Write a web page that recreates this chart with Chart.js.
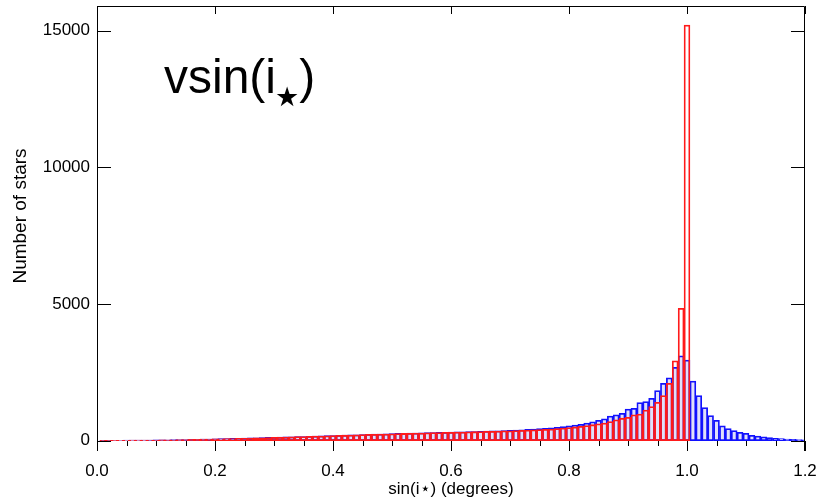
<!DOCTYPE html>
<html>
<head>
<meta charset="utf-8">
<script src="https://cdn.jsdelivr.net/npm/chart.js@4/dist/chart.umd.min.js"></script>
<style>
html,body{margin:0;padding:0;background:#fff;}
#wrap{width:839px;height:503px;position:relative;}
</style>
</head>
<body>
<div id="wrap"><canvas id="c" width="839" height="503"></canvas></div>
<script>
// ---- data ----
const binCenters = [
 0.01,0.02,0.03,0.04,0.05,0.06,0.07,0.08,0.09,0.10,
 0.11,0.12,0.13,0.14,0.15,0.16,0.17,0.18,0.19,0.20,
 0.21,0.22,0.23,0.24,0.25,0.26,0.27,0.28,0.29,0.30,
 0.31,0.32,0.33,0.34,0.35,0.36,0.37,0.38,0.39,0.40,
 0.41,0.42,0.43,0.44,0.45,0.46,0.47,0.48,0.49,0.50,
 0.51,0.52,0.53,0.54,0.55,0.56,0.57,0.58,0.59,0.60,
 0.61,0.62,0.63,0.64,0.65,0.66,0.67,0.68,0.69,0.70,
 0.71,0.72,0.73,0.74,0.75,0.76,0.77,0.78,0.79,0.80,
 0.81,0.82,0.83,0.84,0.85,0.86,0.87,0.88,0.89,0.90,
 0.91,0.92,0.93,0.94,0.95,0.96,0.97,0.98,0.99,1.00,
 1.01,1.02,1.03,1.04,1.05,1.06,1.07,1.08,1.09,1.10,
 1.11,1.12,1.13,1.14,1.15,1.16,1.17,1.18,1.19,1.20
];
const vsiniCounts = [
 8,10,12,14,15,17,20,22,24,27,
 29,32,35,37,42,46,50,56,60,66,
 70,75,82,86,92,98,104,110,116,122,
 128,134,142,148,152,160,168,172,180,188,
 195,202,210,216,224,230,236,240,248,256,
 262,270,272,280,286,290,296,300,306,312,
 318,322,330,334,340,348,356,362,370,378,
 388,398,410,420,436,450,468,490,512,540,
 570,600,640,690,740,795,900,940,1000,1150,
 1185,1390,1430,1550,1830,2100,2300,2680,3100,2950,
 2180,1650,1210,915,745,540,440,365,305,270,
 195,170,135,110,85,70,55,45,40,30
];
const sinCounts = [
 6,8,10,12,13,15,18,20,22,24,
 27,30,32,35,38,44,48,52,58,62,
 68,72,78,84,88,95,100,106,112,118,
 124,130,138,144,150,156,164,170,176,184,
 190,198,204,212,218,226,230,236,242,250,
 256,262,268,272,278,284,290,294,300,305,
 310,316,320,326,332,338,344,350,356,362,
 368,376,384,392,402,412,425,440,458,478,
 500,525,552,582,612,640,700,760,820,855,
 940,975,1120,1245,1400,1650,2100,2915,4840,15200
];
const xMajorTicks = [0.0,0.2,0.4,0.6,0.8,1.0,1.2];
const xMinorTicks = [0.05,0.1,0.15,0.25,0.3,0.35,0.45,0.5,0.55,0.65,0.7,0.75,0.85,0.9,0.95,1.05,1.1,1.15];
const yTicks = [0,5000,10000,15000];
const xRange = [0, 1.2];
const yRange = [-380, 15900];

const FONT = "'Liberation Sans', Arial, Helvetica, sans-serif";

const framePlugin = {
  id: 'frame',
  afterDatasetsDraw(chart) {
    const ctx = chart.ctx, a = chart.chartArea;
    const xs = chart.scales.x, ys = chart.scales.y;
    ctx.save();
    ctx.strokeStyle = '#000';
    ctx.lineWidth = 1;
    ctx.beginPath();
    ctx.moveTo(Math.round(a.left)+0.5, a.bottom);
    ctx.lineTo(Math.round(a.left)+0.5, a.top+0.5);
    ctx.lineTo(Math.round(a.right)-0.5, a.top+0.5);
    ctx.lineTo(Math.round(a.right)-0.5, a.bottom);
    ctx.stroke();
    const y0 = Math.round(ys.getPixelForValue(0));
    ctx.beginPath();
    xMajorTicks.forEach(v => {
      const px = Math.round(xs.getPixelForValue(v)) + 0.5;
      ctx.moveTo(px, y0); ctx.lineTo(px, y0 + 10);
      ctx.moveTo(px, a.top); ctx.lineTo(px, a.top + 8);
    });
    xMinorTicks.forEach(v => {
      const px = Math.round(xs.getPixelForValue(v)) + 0.5;
      ctx.moveTo(px, y0); ctx.lineTo(px, y0 + 5);
    });
    yTicks.forEach(v => {
      const py = Math.round(ys.getPixelForValue(v)) + 0.5;
      ctx.moveTo(a.left, py); ctx.lineTo(a.left + 14, py);
      ctx.moveTo(a.right, py); ctx.lineTo(a.right - 14, py);
    });
    ctx.stroke();
    // panel label
    ctx.fillStyle = '#000';
    ctx.textBaseline = 'alphabetic';
    ctx.textAlign = 'left';
    ctx.font = '48px ' + FONT;
    const base = 93;
    let x = 164;
    ctx.fillText('vsin(i', x, base);
    x += ctx.measureText('vsin(i').width;
    ctx.font = '27px DejaVu Sans';
    ctx.fillText('★', x - 1, base + 13);
    x += ctx.measureText('★').width - 1;
    ctx.font = '48px ' + FONT;
    ctx.fillText(')', x, base);
    // y axis title
    ctx.save();
    ctx.translate(21, 216);
    ctx.rotate(-Math.PI / 2);
    ctx.textAlign = 'center';
    ctx.textBaseline = 'middle';
    ctx.font = '19px ' + FONT;
    ctx.fillText('Number of stars', 0, 0);
    ctx.restore();
    ctx.restore();
  }
};

new Chart(document.getElementById('c'), {
  type: 'bar',
  data: {
    datasets: [
      {
        label: 'sin(i*)',
        data: sinCounts.map((v, i) => ({x: binCenters[i], y: v})),
        backgroundColor: 'rgba(255,255,255,0)',
        borderColor: '#ff1a1a',
        borderWidth: 1.1,
        borderSkipped: false,
        order: 0
      },
      {
        label: 'vsin(i*)',
        data: vsiniCounts.map((v, i) => ({x: binCenters[i], y: v})),
        backgroundColor: 'rgba(70,70,225,0.17)',
        borderColor: '#1010ff',
        borderWidth: 1.1,
        borderSkipped: false,
        order: 1
      }
    ]
  },
  options: {
    responsive: false,
    animation: false,
    devicePixelRatio: 1,
    layout: {padding: {top: 6, right: 34, left: 0, bottom: 0}},
    datasets: {bar: {grouped: false, barPercentage: 1, categoryPercentage: 1}},
    plugins: {legend: {display: false}, tooltip: {enabled: false}},
    scales: {
      x: {
        type: 'linear', min: xRange[0], max: xRange[1], offset: false,
        grid: {display: false, drawTicks: false},
        border: {display: false},
        afterBuildTicks: s => { s.ticks = xMajorTicks.map(v => ({value: v})); },
        afterFit: s => { s.height = 52; s.paddingLeft = 0; s.paddingRight = 0; },
        ticks: {
          color: '#000', padding: 10, maxRotation: 0, autoSkip: false,
          font: {family: FONT, size: 17},
          callback: v => Number(v).toFixed(1)
        },
        title: {display: true, text: 'sin(i\u22C6) (degrees)', color: '#000',
                font: {family: FONT, size: 17}, padding: {top: 0, bottom: 3}}
      },
      y: {
        type: 'linear', min: yRange[0], max: yRange[1],
        grid: {display: false, drawTicks: false},
        border: {display: false},
        afterBuildTicks: s => { s.ticks = yTicks.map(v => ({value: v})); },
        afterFit: s => { s.width = 97; s.paddingTop = 0; s.paddingBottom = 0; },
        ticks: {
          color: '#000', padding: 7, autoSkip: false,
          font: {family: FONT, size: 17},
          callback: v => String(v)
        },
        title: {display: false, text: 'Number of stars'}
      }
    }
  },
  plugins: [framePlugin]
});
</script>
</body>
</html>
